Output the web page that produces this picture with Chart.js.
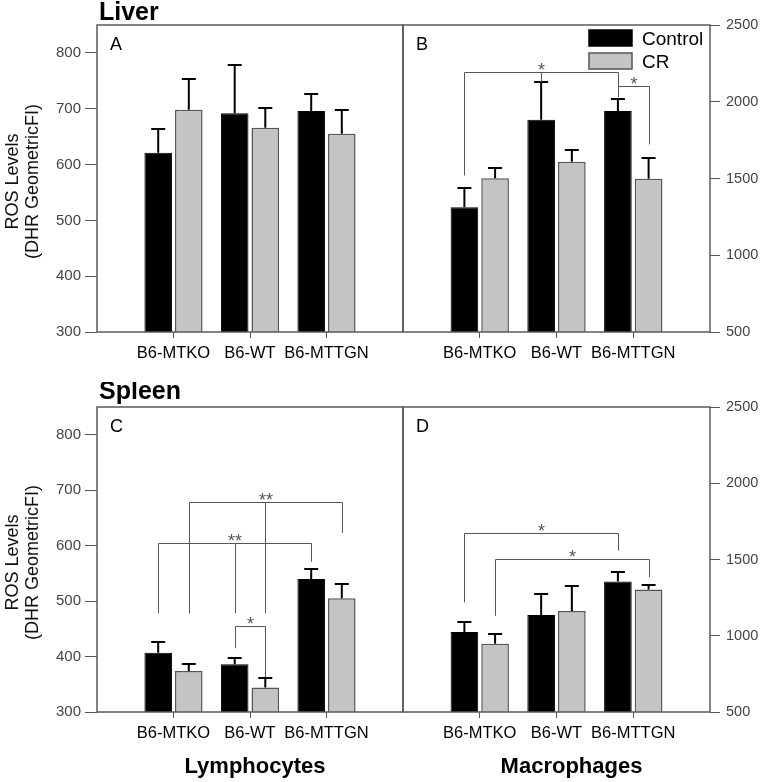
<!DOCTYPE html>
<html><head><meta charset="utf-8">
<script src="https://cdn.jsdelivr.net/npm/chart.js@4.4.0/dist/chart.umd.min.js"></script>
<style>
html,body{margin:0;padding:0;background:#fff;}
#wrap{position:relative;width:761px;height:782px;overflow:hidden;}
canvas{position:absolute;}
</style></head><body>
<div id="wrap">
<canvas id="cA" width="405" height="372" style="left:0;top:0"></canvas>
<canvas id="cB" width="360" height="372" style="left:401px;top:0"></canvas>
<canvas id="cC" width="405" height="400" style="left:0;top:382px"></canvas>
<canvas id="cD" width="360" height="400" style="left:401px;top:382px"></canvas>
</div>
<script>
// ---------- data ----------
const categories = ['B6-MTKO', 'B6-WT', 'B6-MTTGN'];
const seriesNames = ['Control', 'CR'];
const yTitleLines = ['ROS Levels', '(DHR GeometricFI)'];
const lymphTicks = [300, 400, 500, 600, 700, 800];
const macroTicks = [500, 1000, 1500, 2000, 2500];

// A: Liver lymphocytes
const liverLymphControl = [621, 692, 696];
const liverLymphControlErr = [43, 86, 31];
const liverLymphCR = [698, 666, 655];
const liverLymphCRErr = [55, 35, 43];
// B: Liver macrophages
const liverMacControl = [1312, 1883, 1940];
const liverMacControlErr = [127, 246, 80];
const liverMacCR = [1502, 1609, 1498];
const liverMacCRErr = [68, 74, 135];
// C: Spleen lymphocytes
const spleenLymphControl = [407, 386, 540];
const spleenLymphControlErr = [20, 11, 17];
const spleenLymphCR = [374, 344, 505];
const spleenLymphCRErr = [12, 17, 26];
// D: Spleen macrophages
const spleenMacControl = [1025, 1136, 1356];
const spleenMacControlErr = [63, 135, 62];
const spleenMacCR = [948, 1162, 1304];
const spleenMacCRErr = [65, 162, 31];

// significance brackets: top value, legs [categoryIndex, seriesIndex, bottomValue]
const bracketsB = [
  {top: 2191, legs: [[0, 0, 1520], [1, 0, 2129], [2, 0, 2031]], star: '*'},
  {top: 2103, legs: [[2, 0, 2042], [2, 1, 1722]], star: '*'}
];
const bracketsC = [
  {top: 678, legs: [[0, 1, 478], [1, 1, 478], [2, 1, 623]], star: '**'},
  {top: 604, legs: [[0, 0, 478], [1, 0, 478], [2, 0, 571]], star: '**'},
  {top: 455, legs: [[1, 0, 415], [1, 1, 363]], star: '*'}
];
const bracketsD = [
  {top: 1674, legs: [[0, 0, 1219], [2, 0, 1558]], star: '*'},
  {top: 1503, legs: [[0, 1, 1131], [2, 1, 1385]], star: '*'}
];

// ---------- drawing ----------
const FONT = 'Arial, "Liberation Sans", sans-serif';

const decor = {
  id: 'decor',
  afterDatasetsDraw(chart, args, o) {
    const {ctx, chartArea: a, scales: {y}} = chart;
    ctx.save();
    // error bars
    chart.data.datasets.forEach((ds, di) => {
      const meta = chart.getDatasetMeta(di);
      meta.data.forEach((bar, i) => {
        const v = ds.data[i], e = ds.err[i];
        if (v == null || e == null) return;
        const yt = Math.round(y.getPixelForValue(v + e));
        ctx.strokeStyle = '#000'; ctx.lineWidth = 2;
        ctx.beginPath();
        ctx.moveTo(bar.x, bar.y); ctx.lineTo(bar.x, yt);
        ctx.moveTo(bar.x - 7, yt); ctx.lineTo(bar.x + 7, yt);
        ctx.stroke();
      });
    });
    // brackets
    (o.brackets || []).forEach(b => {
      const yt = Math.round(y.getPixelForValue(b.top)) + 0.5;
      const xs = b.legs.map(l => Math.round(chart.getDatasetMeta(l[1]).data[l[0] + 1].x) + 0.5);
      const x0 = Math.min(...xs), x1 = Math.max(...xs);
      ctx.strokeStyle = '#555'; ctx.lineWidth = 1;
      ctx.beginPath();
      ctx.moveTo(x0, yt); ctx.lineTo(x1, yt);
      b.legs.forEach((l, k) => {
        ctx.moveTo(xs[k], yt);
        ctx.lineTo(xs[k], y.getPixelForValue(l[2]));
      });
      ctx.stroke();
      ctx.fillStyle = '#555';
      ctx.font = '18px ' + FONT;
      ctx.textAlign = 'center'; ctx.textBaseline = 'alphabetic';
      ctx.fillText(b.star, (x0 + x1) / 2, yt + 3);
    });
    // frame
    ctx.strokeStyle = '#5a5a5a'; ctx.lineWidth = 1.5;
    ctx.strokeRect(a.left, a.top, a.right - a.left, a.bottom - a.top);
    // panel letter
    ctx.fillStyle = '#000';
    ctx.font = '18px ' + FONT;
    ctx.textAlign = 'left'; ctx.textBaseline = 'alphabetic';
    ctx.fillText(o.letter, a.left + 13, a.top + 25);
    // legend
    if (o.legend) {
      chart.data.datasets.forEach((ds, di) => {
        const bx = a.left + 186, by = a.top + 5 + di * 23;
        ctx.fillStyle = ds.backgroundColor;
        ctx.fillRect(bx, by, 43, 16);
        ctx.strokeStyle = ds.borderColor; ctx.lineWidth = 1.5;
        ctx.strokeRect(bx, by, 43, 16);
        ctx.fillStyle = '#000';
        ctx.font = '19px ' + FONT;
        ctx.textAlign = 'left';
        ctx.fillText(ds.label, bx + 53, by + 15);
      });
    }
    // y title
    if (o.yTitle) {
      const cy = (a.top + a.bottom) / 2 + 3;
      ctx.fillStyle = '#111';
      ctx.font = '18px ' + FONT;
      ctx.textAlign = 'center';
      o.yTitle.forEach((line, k) => {
        ctx.save();
        ctx.translate(17.5 + k * 20, cy);
        ctx.rotate(-Math.PI / 2);
        ctx.fillText(line, 0, 0);
        ctx.restore();
      });
    }
    // bold titles
    (o.texts || []).forEach(t => {
      ctx.fillStyle = '#000';
      ctx.font = 'bold ' + t.size + 'px ' + FONT;
      ctx.textAlign = t.align;
      ctx.fillText(t.text, t.x, t.y);
    });
    ctx.restore();
  }
};

function panel(id, p) {
  const labels = ['', ...categories, ''];
  const pad = arr => [null, ...arr, null];
  return new Chart(document.getElementById(id), {
    type: 'bar',
    data: {
      labels,
      datasets: [
        {label: seriesNames[0], data: pad(p.ctrl), err: pad(p.ctrlErr),
         backgroundColor: '#000', borderColor: '#000', borderWidth: 1},
        {label: seriesNames[1], data: pad(p.cr), err: pad(p.crErr),
         backgroundColor: '#c4c4c4', borderColor: '#555', borderWidth: 1.5}
      ]
    },
    options: {
      responsive: false, animation: false, devicePixelRatio: 1,
      layout: {padding: p.padding},
      plugins: {
        legend: {display: false}, tooltip: {enabled: false},
        decor: {brackets: p.brackets, letter: p.letter, legend: p.legend, yTitle: p.yTitle, texts: p.texts}
      },
      scales: {
        x: {
          offset: false,
          grid: {offset: false, drawOnChartArea: false, tickLength: 6, color: '#555'},
          border: {display: false},
          ticks: {autoSkip: false, maxRotation: 0, padding: 6, color: '#000', font: {family: FONT, size: 16.5}},
          afterBuildTicks: s => { s.ticks = s.ticks.filter(t => labels[t.value] !== ''); },
          afterFit: s => { s.height = 40; }
        },
        y: {
          position: p.yPos, min: p.min, max: p.max,
          grid: {drawOnChartArea: false, tickLength: p.tickLen, color: '#555'},
          border: {display: false},
          ticks: {padding: p.tickPad, color: '#444', font: {family: FONT, size: p.tickSize},
                  callback: v => String(v)},
          afterBuildTicks: s => { s.ticks = p.ticks.map(v => ({value: v})); },
          afterFit: s => { s.width = p.yWidth; }
        }
      }
    },
    plugins: [decor]
  });
}

const leftCfg = {yPos: 'left', min: 300, max: 850, ticks: lymphTicks, tickLen: 12, tickPad: 4, tickSize: 15, yWidth: 97, yTitle: yTitleLines};
const rightCfg = {yPos: 'right', min: 500, max: 2500, ticks: macroTicks, tickLen: 10, tickPad: 6, tickSize: 14.5, yWidth: 51};

panel('cA', Object.assign({}, leftCfg, {
  ctrl: liverLymphControl, ctrlErr: liverLymphControlErr, cr: liverLymphCR, crErr: liverLymphCRErr,
  padding: {top: 25, right: 2, left: 0, bottom: 0}, letter: 'A', brackets: [],
  texts: [{text: 'Liver', x: 99, y: 19.5, size: 25, align: 'left'}]
}));
panel('cB', Object.assign({}, rightCfg, {
  ctrl: liverMacControl, ctrlErr: liverMacControlErr, cr: liverMacCR, crErr: liverMacCRErr,
  padding: {top: 25, right: 0, left: 2, bottom: 0}, letter: 'B', brackets: bracketsB, legend: true
}));
panel('cC', Object.assign({}, leftCfg, {
  ctrl: spleenLymphControl, ctrlErr: spleenLymphControlErr, cr: spleenLymphCR, crErr: spleenLymphCRErr,
  padding: {top: 25, right: 2, left: 0, bottom: 30}, letter: 'C', brackets: bracketsC,
  texts: [{text: 'Spleen', x: 99, y: 17, size: 25, align: 'left'},
          {text: 'Lymphocytes', x: 255, y: 391, size: 22, align: 'center'}]
}));
panel('cD', Object.assign({}, rightCfg, {
  ctrl: spleenMacControl, ctrlErr: spleenMacControlErr, cr: spleenMacCR, crErr: spleenMacCRErr,
  padding: {top: 25, right: 0, left: 2, bottom: 30}, letter: 'D', brackets: bracketsD,
  texts: [{text: 'Macrophages', x: 170.5, y: 391, size: 22, align: 'center'}]
}));
</script>
</body></html>
